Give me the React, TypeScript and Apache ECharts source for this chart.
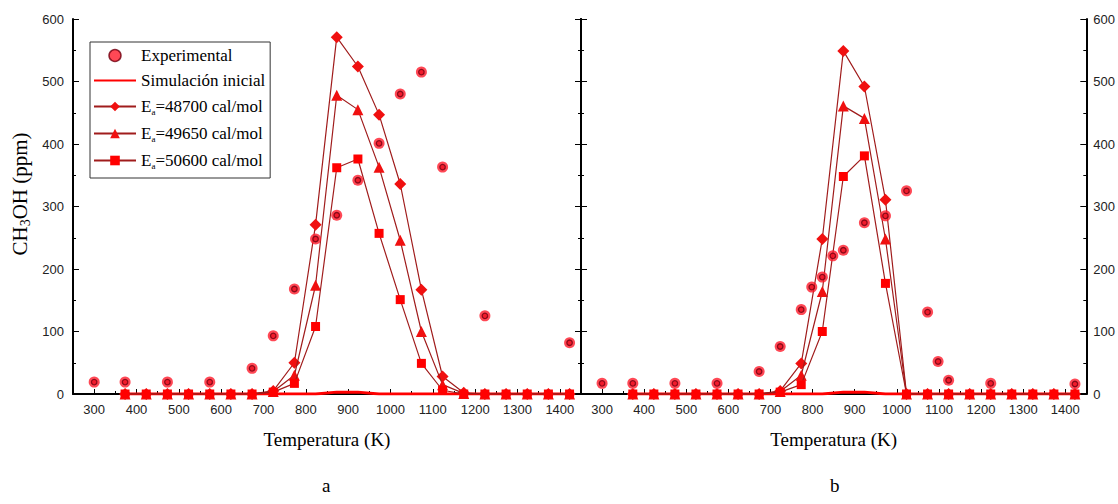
import React, { useEffect, useRef } from "react";
import * as echarts from "echarts";

// Simulated temperatures (K)
const T_SIM = [373, 423, 473, 523, 573, 623, 673, 723, 773, 823, 873, 923, 973, 1023, 1073, 1123, 1173, 1223, 1273, 1323, 1373, 1423];

// Panel a
const A_INICIAL = [0, 0, 0, 0, 0, 0, 0, 0, 0, 0, 3, 3, 0, 0, 0, 0, 0, 0, 0, 0, 0, 0];
const A_48700 = [0, 0, 0, 0, 0, 0, 0, 5, 50, 271, 571, 524, 447, 336, 167, 28, 2, 0, 0, 0, 0, 0];
const A_49650 = [0, 0, 0, 0, 0, 0, 0, 4, 30, 174, 478, 455, 363, 246, 100, 15, 1, 0, 0, 0, 0, 0];
const A_50600 = [0, 0, 0, 0, 0, 0, 0, 3, 17, 108, 362, 376, 257, 151, 49, 6, 0, 0, 0, 0, 0, 0];
const A_EXP_T = [300, 373, 473, 573, 673, 723, 773, 823, 873, 923, 973, 1023, 1073, 1123, 1223, 1423];
const A_EXP = [19, 19, 19, 19, 41, 93, 168, 248, 286, 342, 401, 480, 515, 363, 125, 82];

// Panel b
const B_INICIAL = [0, 0, 0, 0, 0, 0, 0, 0, 0, 0, 3, 3, 0, 0, 0, 0, 0, 0, 0, 0, 0, 0];
const B_48700 = [0, 0, 0, 0, 0, 0, 0, 5, 49, 248, 549, 492, 311, 0, 0, 0, 0, 0, 0, 0, 0, 0];
const B_49650 = [0, 0, 0, 0, 0, 0, 0, 4, 30, 164, 461, 441, 248, 0, 0, 0, 0, 0, 0, 0, 0, 0];
const B_50600 = [0, 0, 0, 0, 0, 0, 0, 3, 15, 100, 348, 381, 177, 0, 0, 0, 0, 0, 0, 0, 0, 0];
const B_EXP_T = [300, 373, 473, 573, 673, 723, 773, 798, 823, 848, 873, 923, 973, 1023, 1073, 1098, 1123, 1223, 1423];
const B_EXP = [17, 17, 17, 17, 36, 76, 135, 171, 187, 221, 230, 274, 285, 325, 131, 52, 22, 17, 16];

const X_MAJOR = [300, 400, 500, 600, 700, 800, 900, 1000, 1100, 1200, 1300, 1400];
const X_MINOR = [350, 450, 550, 650, 750, 850, 950, 1050, 1150, 1250, 1350];

const N_EXP = "Experimental";
const N_INI = "Simulación inicial";
const N_1 = "Ea=48700 cal/mol";
const N_2 = "Ea=49650 cal/mol";
const N_3 = "Ea=50600 cal/mol";

const SERIF = "Liberation Serif";
const SANS = "Liberation Sans";
const LINE_C = "#a01c1c";
const MARK_C = "#f01010";

function pairs(xs: number[], ys: number[]) {
  return xs.map((x, i) => [x, ys[i]]);
}

function panelSeries(xi: number, yi: number, ini: number[], s1: number[], s2: number[], s3: number[], et: number[], ev: number[]) {
  const base = { type: "line", xAxisIndex: xi, yAxisIndex: yi, smooth: false };
  return [
    { ...base, name: N_INI, data: pairs(T_SIM, ini), symbol: "none", lineStyle: { color: "#ff0000", width: 3 }, itemStyle: { color: "#ff0000" }, z: 2 },
    { ...base, name: N_1, data: pairs(T_SIM, s1), symbol: "diamond", symbolSize: 12, showAllSymbol: true, lineStyle: { color: LINE_C, width: 1.2 }, itemStyle: { color: MARK_C }, z: 3 },
    { ...base, name: N_2, data: pairs(T_SIM, s2), symbol: "triangle", symbolSize: 11, showAllSymbol: true, lineStyle: { color: LINE_C, width: 1.2 }, itemStyle: { color: MARK_C }, z: 4 },
    { ...base, name: N_3, data: pairs(T_SIM, s3), symbol: "rect", symbolSize: 9, showAllSymbol: true, lineStyle: { color: LINE_C, width: 1.2 }, itemStyle: { color: "#ff0000" }, z: 5 },
    { type: "scatter", name: N_EXP, xAxisIndex: xi, yAxisIndex: yi, data: pairs(et, ev), symbol: "circle", symbolSize: 11, itemStyle: { color: "#ff1a2a" }, z: 6 },
    { type: "scatter", name: "exp-ring", xAxisIndex: xi, yAxisIndex: yi, data: pairs(et, ev), symbol: "circle", symbolSize: 5.5, itemStyle: { color: "#ee1020", borderColor: "#700010", borderWidth: 1.3 }, z: 7, silent: true },
  ];
}

function xAxes(gi: number) {
  return [
    {
      type: "value", gridIndex: gi, min: 250, max: 1450, position: "bottom",
      name: "Temperatura (K)", nameLocation: "middle", nameGap: 36,
      nameTextStyle: { fontFamily: SERIF, fontSize: 19, color: "#000" },
      axisLine: { show: true, lineStyle: { color: "#000", width: 2 } },
      axisTick: { show: true, inside: true, length: 5, customValues: X_MAJOR, lineStyle: { color: "#000" } },
      axisLabel: { show: true, customValues: X_MAJOR, margin: 9, fontFamily: SANS, fontSize: 13, color: "#222", formatter: (v: number) => String(v) },
      splitLine: { show: false },
    },
    {
      type: "value", gridIndex: gi, min: 250, max: 1450, position: "bottom",
      axisLine: { show: false },
      axisTick: { show: true, inside: true, length: 3, customValues: X_MINOR, lineStyle: { color: "#000" } },
      axisLabel: { show: false },
      splitLine: { show: false },
    },
  ];
}

function yAxis(gi: number, pos: string, labels: boolean) {
  return {
    type: "value", gridIndex: gi, min: 0, max: 600, interval: 100, position: pos,
    axisLine: { show: true, lineStyle: { color: "#000", width: 2 } },
    axisTick: { show: true, inside: true, length: 6, lineStyle: { color: "#000" } },
    minorTick: { show: true, splitNumber: 2, length: 3, lineStyle: { color: "#000" } },
    axisLabel: { show: labels, margin: pos === "left" ? 9 : 7, fontFamily: SANS, fontSize: 13, color: "#222", formatter: (v: number) => String(v) },
    splitLine: { show: false },
  };
}

export default function App() {
  const ref = useRef<HTMLDivElement>(null);
  useEffect(() => {
    if (!ref.current) return;
    const chart = echarts.init(ref.current, undefined, { renderer: "svg" });
    const richText = {
      n: { fontFamily: SERIF, fontSize: 17, lineHeight: 17, color: "#000" },
      s: { fontFamily: SERIF, fontSize: 9, lineHeight: 7, padding: [10, 0, 0, 0], color: "#000" },
    };
    const option: any = {
      animation: false,
      backgroundColor: "#fff",
      grid: [
        { left: 73, top: 19, width: 508, height: 375 },
        { left: 581, top: 19, width: 507, height: 375 },
      ],
      xAxis: [...xAxes(0), ...xAxes(1)],
      yAxis: [
        yAxis(0, "left", true),
        yAxis(0, "right", false),
        yAxis(1, "left", false),
        yAxis(1, "right", true),
      ],
      legend: {
        show: true, orient: "vertical", left: 90, top: 42,
        itemWidth: 42, itemHeight: 12, itemGap: 8,
        padding: [5, 5, 8, 3],
        borderColor: "#333", borderWidth: 1, backgroundColor: "#fff",
        data: [
          { name: N_EXP, itemStyle: { color: "#ff1a2a", borderColor: "#700010", borderWidth: 1.5 } },
          { name: N_INI, itemStyle: { opacity: 0 } },
          N_1, N_2, N_3,
        ],
        textStyle: { fontFamily: SERIF, fontSize: 17, color: "#000", rich: richText },
        formatter: (name: string) =>
          name.startsWith("Ea=") ? "{n|E}{s|a}{n|" + name.slice(2) + "}" : "{n|" + name + "}",
      },
      graphic: [
        {
          type: "text", x: 20, y: 194, rotation: Math.PI / 2,
          style: {
            text: "{n|CH}{s|3}{n|OH (ppm)}", align: "center", verticalAlign: "middle",
            rich: {
              n: { fontFamily: SERIF, fontSize: 21, lineHeight: 21, fill: "#000" },
              s: { fontFamily: SERIF, fontSize: 14, lineHeight: 10, padding: [11, 0, 0, 0], fill: "#000" },
            },
          },
        },
        { type: "text", left: 322, top: 476, style: { text: "a", fontFamily: SERIF, fontSize: 19, fill: "#000" } },
        { type: "text", left: 830, top: 476, style: { text: "b", fontFamily: SERIF, fontSize: 19, fill: "#000" } },
      ],
      series: [
        ...panelSeries(0, 0, A_INICIAL, A_48700, A_49650, A_50600, A_EXP_T, A_EXP),
        ...panelSeries(2, 3, B_INICIAL, B_48700, B_49650, B_50600, B_EXP_T, B_EXP),
      ],
    };
    chart.setOption(option);
    return () => chart.dispose();
  }, []);
  return <div ref={ref} style={{ position: "fixed", left: 0, top: 0, width: 1118, height: 504 }} />;
}
